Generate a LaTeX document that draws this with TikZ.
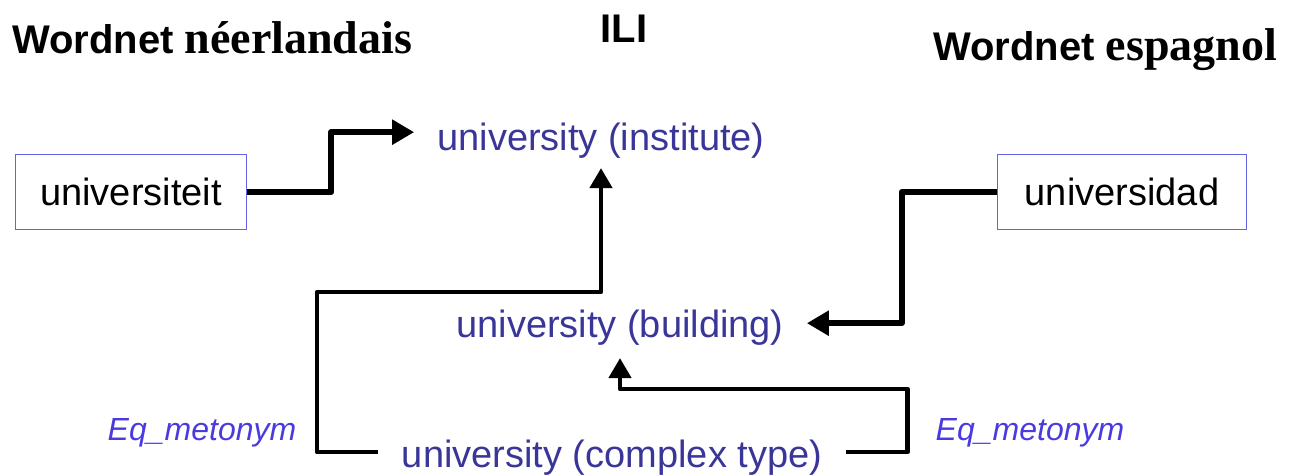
\documentclass[tikz,border=0pt]{standalone}
\usepackage{fontspec}
\setmainfont{Liberation Sans}
\newfontfamily\serifbold{Liberation Serif}[BoldFont={* Bold}]
\usetikzlibrary{arrows.meta}

\definecolor{synset}{HTML}{3A3699}
\definecolor{relation}{HTML}{4A3BE0}
\definecolor{boxline}{HTML}{6464E0}

\tikzset{
  title/.style={anchor=base west, inner sep=0pt, font=\fontsize{40}{44}\selectfont\bfseries},
  synsetlabel/.style={anchor=base, text=synset, inner xsep=23pt, inner ysep=10pt,
                      font=\fontsize{38}{42}\selectfont},
  wordbox/.style={draw=boxline, line width=1.7pt, minimum width=231pt, minimum height=75pt,
                  inner sep=0pt, font=\fontsize{38}{42}\selectfont},
  rellabel/.style={anchor=base, text=relation, inner sep=0pt,
                   font=\fontsize{32}{36}\selectfont\itshape},
  link/.style={line width=6pt, line join=round, -{Triangle[length=22pt,width=24pt]}},
  eqlink/.style={line width=4.5pt, line join=round, -{Triangle[length=20pt,width=22pt]}}
}

\begin{document}
\begin{tikzpicture}[x=1pt,y=-1pt]
  \useasboundingbox (0,0) rectangle (1296,475);

  % column headings
  \node[title] (nl) at (12,53) {Wordnet {\serifbold\fontsize{46}{50}\selectfont néerlandais}};
  \node[title, anchor=base] (ili) at (624,42) {ILI};
  \node[title] (es) at (933,60) {Wordnet {\serifbold\fontsize{46}{50}\selectfont espagnol}};

  % language-specific words
  \node[wordbox] (uit) at (131,192) {universiteit};
  \node[wordbox, minimum width=249pt] (uda) at (1122,192) {universidad};

  % ILI records
  \node[synsetlabel] (inst) at (601,150) {university (institute)};
  \node[synsetlabel, inner ysep=13pt] (bld) at (620,337) {university (building)};
  \node[synsetlabel, inner xsep=24pt] (cplx) at (612,467) {university (complex type)};

  % relation labels
  \node[rellabel] (eql) at (202,440) {Eq\_metonym};
  \node[rellabel] (eqr) at (1030,440) {Eq\_metonym};

  % bend points
  \coordinate (lc) at (317,292);
  \coordinate (rc) at (620,389);

  % equivalence links
  \draw[link] (uit.east) -- ++(84,0) |- ([yshift=8pt]inst.west);
  \draw[link] (uda.west) -- ++(-95,0) |- ([yshift=4pt]bld.east);

  % metonymy links from the complex type
  \draw[eqlink] ([yshift=5pt]cplx.west) -| (lc) -| (inst.south);
  \draw[eqlink] ([yshift=5pt]cplx.east) -- ++(61,0) |- (rc) -- (bld.south);
\end{tikzpicture}
\end{document}
